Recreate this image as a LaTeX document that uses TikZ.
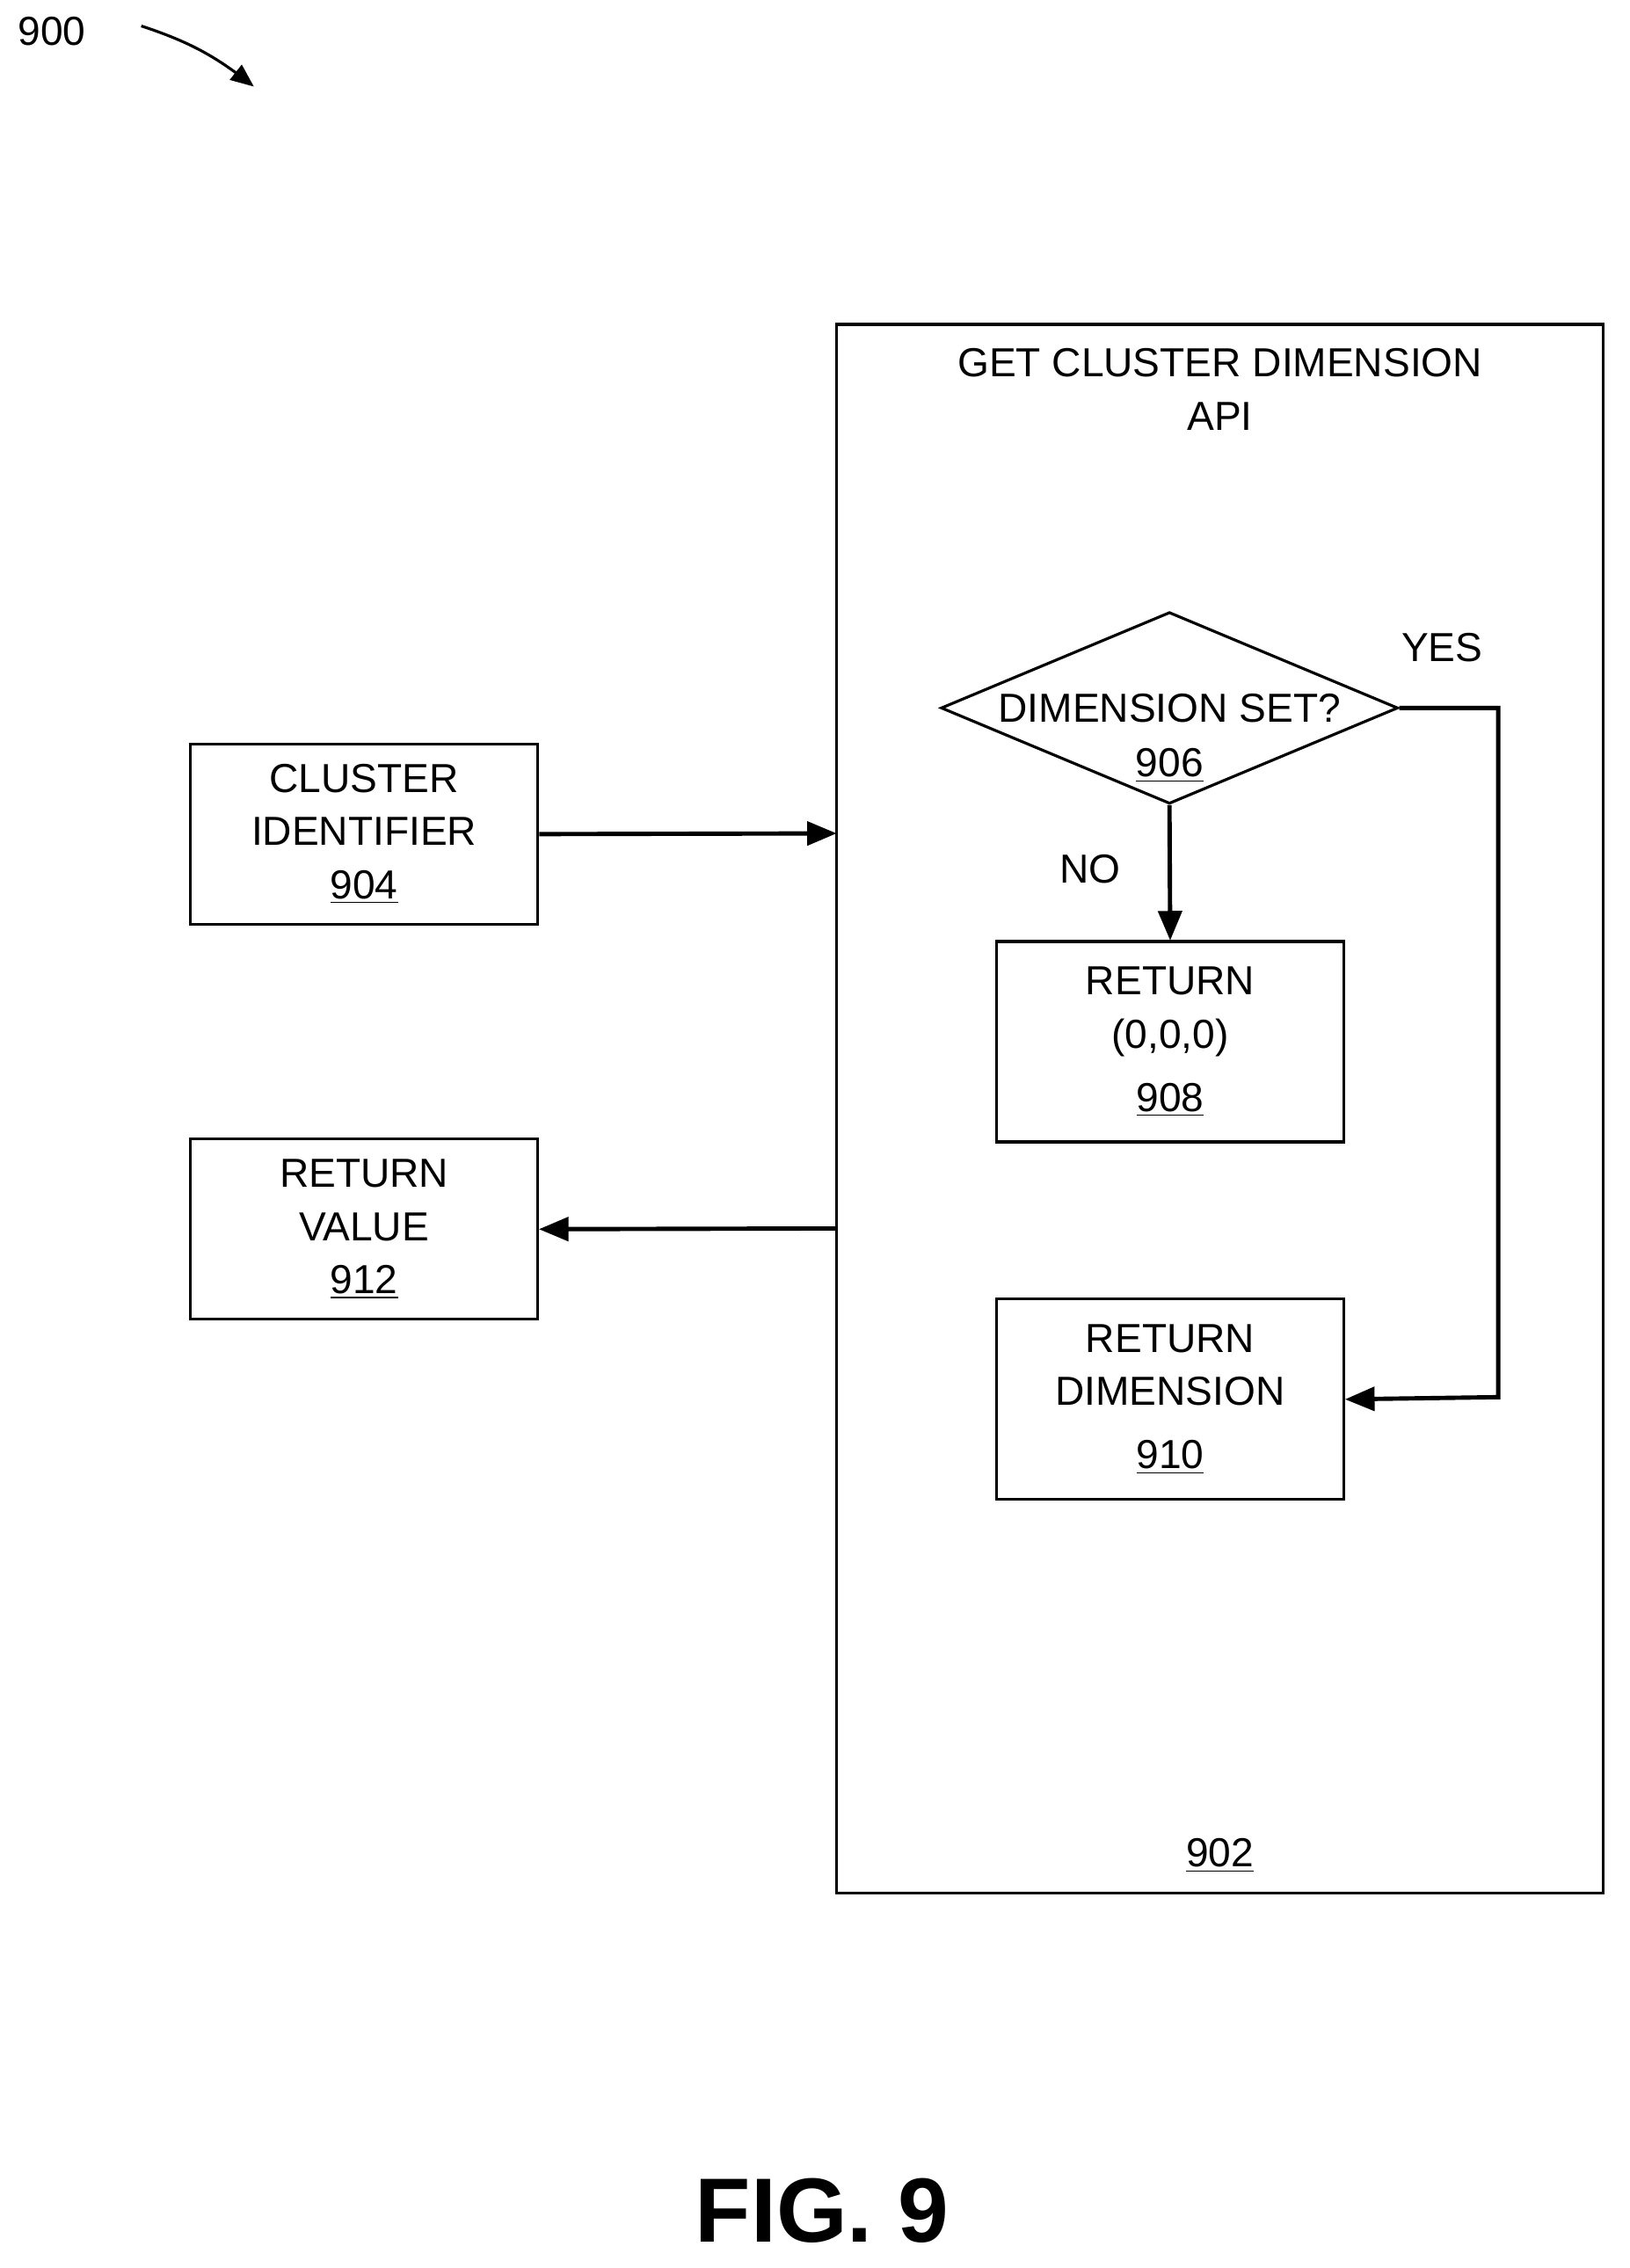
\documentclass[tikz,border=0pt]{standalone}
\usepackage{fontspec}
\setmainfont{Liberation Sans}
\usetikzlibrary{arrows,shapes.geometric,positioning}
\begin{document}
\begin{tikzpicture}
[x=0.02cm, y=-0.02cm, line width=1.1pt, >=triangle 45,
box/.style={rectangle, draw, minimum width=4.82cm, align=center, font=\fontsize{16}{21}\selectfont},
lbl/.style={font=\fontsize{16}{21}\selectfont, align=center},
flow/.style={->, line width=1.7pt}]
\useasboundingbox (0,0) rectangle (1130,1573);

% outer api box
\draw (580,225) rectangle (1112,1313);
\node[lbl] (apititle) at (846,270) {GET CLUSTER DIMENSION\\API};
\node[lbl] (api) at (846,1287) {\underline{902}};

% decision
\node[diamond, draw, minimum width=6.34cm, minimum height=2.66cm, inner sep=0pt] (dimset) at (811,491) {};
\node[lbl] at (811,491) {DIMENSION SET?};
\node[lbl] at (811,531) {\underline{906}};

\node[box, minimum height=2.78cm] (zero) at (811.5,722.5) {RETURN\\(0,0,0)\\[4pt]\underline{908}};
\node[box, minimum height=2.78cm] (retdim) at (811.5,970.5) {RETURN\\DIMENSION\\[4pt]\underline{910}};

\node[box, minimum height=2.5cm] (clusterid) at (252.5,578.5) {CLUSTER\\IDENTIFIER\\\underline{904}};
\node[box, minimum height=2.5cm] (retval) at (252.5,852.5) {RETURN\\VALUE\\\underline{912}};

\coordinate (apiin) at (580,578);
\coordinate (apiout) at (580,852);
\draw[flow] (clusterid.east) -- (apiin);
\draw[flow] (apiout) -- (retval.east);
\draw[flow] (dimset.south) -- (zero.north);
\draw[flow] (dimset.east) -- (1039,491) -- (1039,969) -- (retdim.east);
\node[lbl] (yes) at (1000,449) {YES};
\node[lbl] (no) at (756,603) {NO};

% figure label
\node[lbl] (fignum) at (36,22) {900};
\draw[->, line width=1.1pt] (98,18) to[bend left=10] (176,60);
\node[font=\fontsize{36}{40}\selectfont\bfseries] (fig) at (570,1533) {FIG. 9};
\end{tikzpicture}
\end{document}
